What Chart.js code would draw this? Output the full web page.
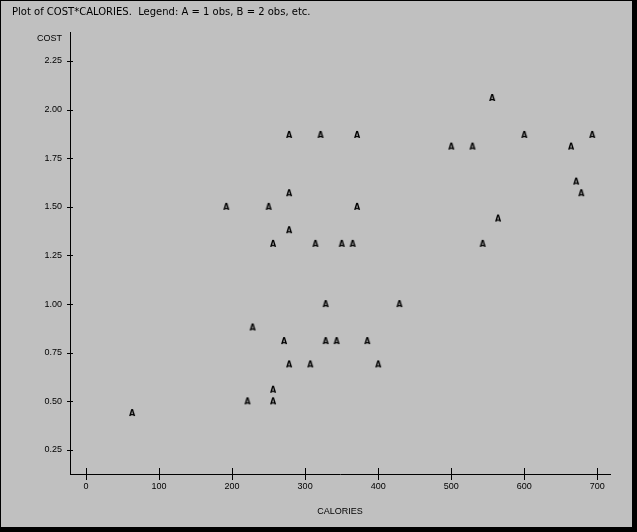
<!DOCTYPE html>
<html>
<head>
<meta charset="utf-8">
<script src="https://cdn.jsdelivr.net/npm/chart.js@4/dist/chart.umd.min.js"></script>
<style>
  html, body { margin: 0; padding: 0; background: #000; overflow: hidden; }
  #wrap { position: absolute; left: 1px; top: 1px; width: 631px; height: 526px; background: #c0c0c0; }
</style>
</head>
<body>
<div id="wrap"><canvas id="grafico" width="631" height="526"></canvas></div>
<script>
// valores (COST x CALORIES)
const calorias = [278, 321, 371, 600, 693, 500, 529, 664, 556, 671, 278, 678, 192, 250, 371, 564, 278,
  256, 314, 350, 365, 543, 328, 429, 228, 271, 328, 343, 385, 278, 307, 400, 256, 221, 256, 63];
const custo = [1.87, 1.87, 1.87, 1.87, 1.87, 1.81, 1.81, 1.81, 2.06, 1.63, 1.57, 1.57, 1.50, 1.50, 1.50, 1.44, 1.38,
  1.31, 1.31, 1.31, 1.31, 1.31, 1.00, 1.00, 0.88, 0.81, 0.81, 0.81, 0.81, 0.69, 0.69, 0.69, 0.56, 0.50, 0.50, 0.44];

const ticksX = [0, 100, 200, 300, 400, 500, 600, 700];
const ticksY = [0.25, 0.50, 0.75, 1.00, 1.25, 1.50, 1.75, 2.00, 2.25];

const titulo = 'Plot of COST*CALORIES.  Legend: A = 1 obs, B = 2 obs, etc.';
const tituloX = 'CALORIES';
const tituloY = 'COST';

Chart.defaults.font.family = "'Liberation Sans', Arial, sans-serif";
Chart.defaults.font.size = 9;
Chart.defaults.color = '#000';

// marcador "A" como no gráfico de impressora
function criarMarcador(letra) {
  const c = document.createElement('canvas');
  c.width = 10;
  c.height = 10;
  const g = c.getContext('2d');
  g.fillStyle = '#000';
  g.font = 'bold 8px "DejaVu Sans"';
  g.textAlign = 'center';
  g.textBaseline = 'middle';
  g.fillText(letra, 5, 5.5);
  return c;
}

// traços que cruzam os eixos + rótulo COST no topo
const eixosCruzados = {
  id: 'eixosCruzados',
  afterDraw(chart) {
    const { ctx, chartArea, scales } = chart;
    ctx.save();
    ctx.strokeStyle = '#000';
    ctx.lineWidth = 1;
    ctx.beginPath();
    scales.x.ticks.forEach(t => {
      const px = Math.round(scales.x.getPixelForValue(t.value)) + 0.5;
      ctx.moveTo(px, chartArea.bottom - 6);
      ctx.lineTo(px, chartArea.bottom + 6);
    });
    scales.y.ticks.forEach(t => {
      const py = Math.round(scales.y.getPixelForValue(t.value)) + 0.5;
      ctx.moveTo(chartArea.left - 3, py);
      ctx.lineTo(chartArea.left + 3, py);
    });
    ctx.stroke();
    ctx.fillStyle = '#000';
    ctx.font = "9px 'Liberation Sans', Arial, sans-serif";
    ctx.textAlign = 'right';
    ctx.textBaseline = 'middle';
    ctx.fillText(tituloY, chartArea.left - 8, chartArea.top + 6.5);
    ctx.restore();
  }
};

const pontos = calorias.map((c, i) => ({ x: c, y: custo[i] }));

new Chart(document.getElementById('grafico'), {
  type: 'scatter',
  data: {
    datasets: [{
      label: 'A',
      data: pontos,
      pointStyle: criarMarcador('A'),
      pointRadius: 5,
      pointHoverRadius: 5
    }]
  },
  options: {
    responsive: false,
    animation: false,
    events: [],
    devicePixelRatio: 1,
    layout: { padding: { left: 11, right: 22, top: 0, bottom: 10 } },
    plugins: {
      legend: { display: false },
      tooltip: { enabled: false },
      title: {
        display: true,
        text: titulo,
        align: 'start',
        color: '#000',
        font: { family: "'DejaVu Sans', sans-serif", size: 10, weight: 'normal', lineHeight: 1.2 },
        padding: { top: 5, bottom: 14 }
      }
    },
    scales: {
      x: {
        type: 'linear',
        min: -21.9,
        max: 717.4,
        grid: { display: false, drawTicks: false },
        border: { display: true, color: '#000', width: 1 },
        afterBuildTicks: s => { s.ticks = ticksX.map(v => ({ value: v })); },
        afterFit: s => { s.height = 43; },
        ticks: { padding: 7, color: '#000', callback: v => String(v) },
        title: { display: true, text: tituloX, color: '#000', font: { size: 9 }, padding: 0 }
      },
      y: {
        type: 'linear',
        min: 0.1266,
        max: 2.399,
        grid: { display: false, drawTicks: false },
        border: { display: true, color: '#000', width: 1 },
        afterBuildTicks: s => { s.ticks = ticksY.map(v => ({ value: v })); },
        afterFit: s => { s.width = 58; },
        ticks: { padding: 8, color: '#000', callback: v => v.toFixed(2) }
      }
    }
  },
  plugins: [eixosCruzados]
});
</script>
</body>
</html>
